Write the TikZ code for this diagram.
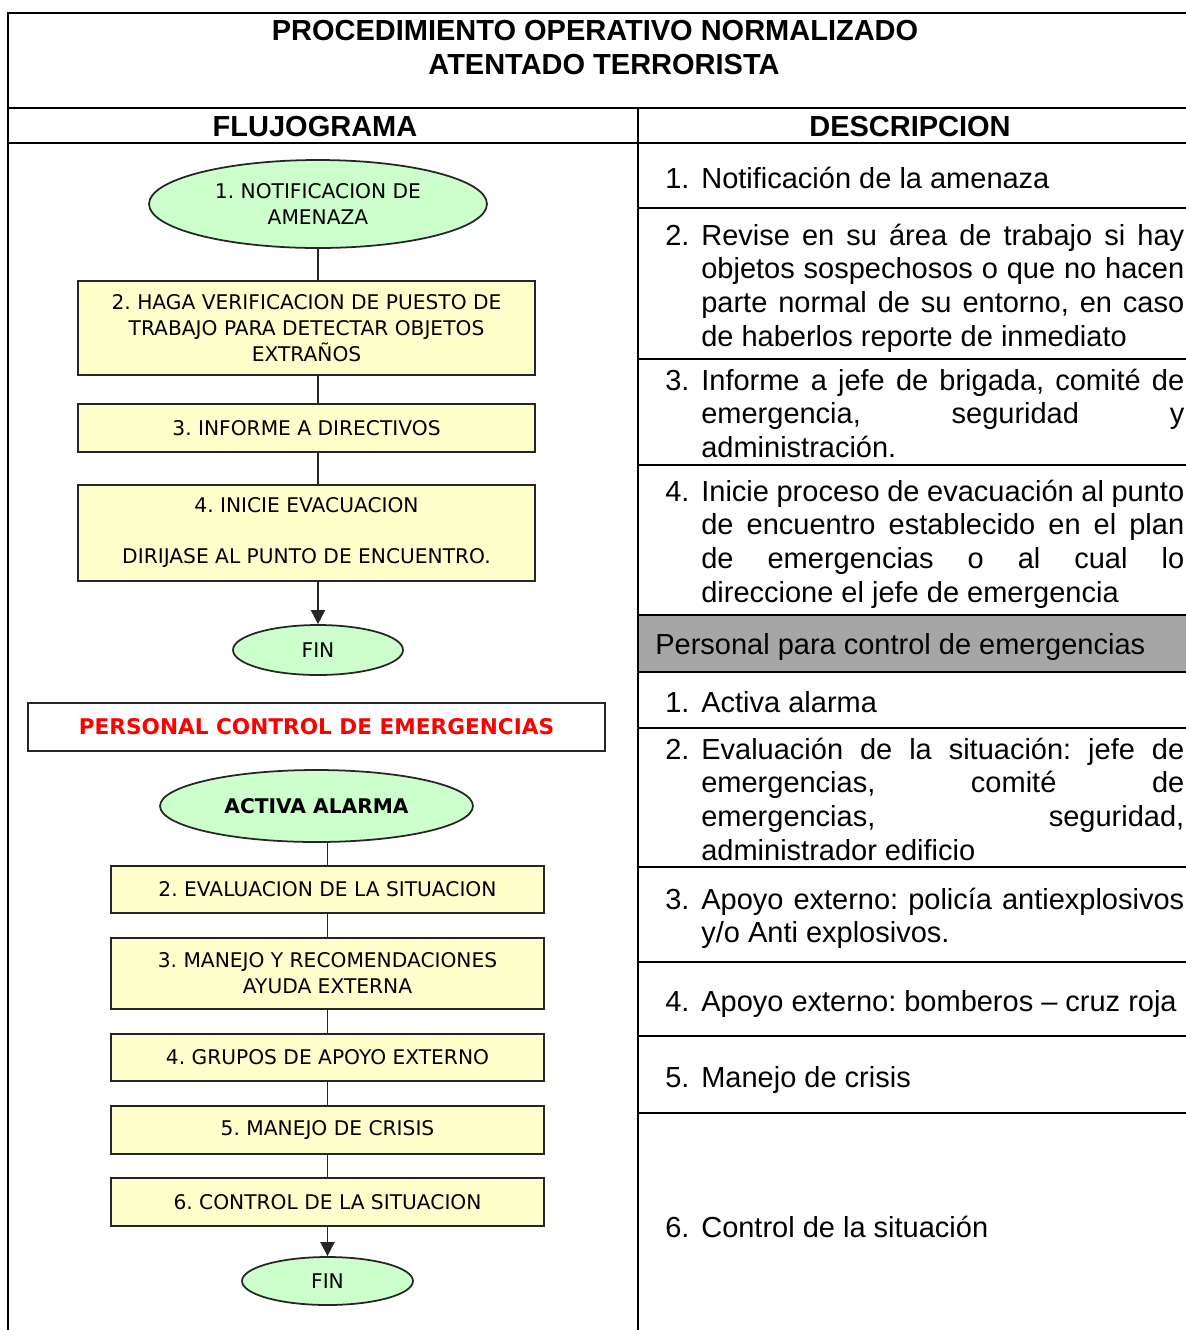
\documentclass[tikz,border=0pt]{standalone}
\usepackage{fontspec}
\setmainfont{Liberation Sans}
\newfontfamily\flujo{DejaVu Sans}
\usetikzlibrary{shapes.geometric,arrows.meta}
\definecolor{verdeclaro}{HTML}{CCFFCC}
\definecolor{amarilloclaro}{HTML}{FFFFCC}
\definecolor{grisfila}{HTML}{A6A6A6}
\hyphenpenalty=10000
\frenchspacing
\newcommand{\columna}[1]{\parbox[t]{10.38cm}{#1}}
\newcommand{\numero}[1]{\hangindent=0.72cm\hangafter=1\noindent\makebox[0.72cm][l]{#1}}

\begin{document}
\begin{tikzpicture}[x=0.02cm, y=-0.02cm,
  linea/.style={black, line width=1.1pt},
  titulo/.style={anchor=base, inner sep=0pt, font=\bfseries\fontsize{16.5}{19.3}\selectfont},
  texto/.style={anchor=base west, inner sep=0pt, font=\fontsize{16.5}{19.3}\selectfont},
  caja/.style={draw=black!85, line width=1pt, fill=amarilloclaro, minimum width=8.66cm, inner sep=0pt, align=center, font=\flujo\fontsize{11.5}{14.8}\selectfont},
  ovalo/.style={ellipse, draw=black!85, line width=1pt, fill=verdeclaro, inner sep=0pt, align=center, font=\flujo\fontsize{11.5}{14.8}\selectfont},
  conector/.style={black!85, line width=1.1pt},
  flecha/.style={conector, -{Triangle[length=8pt,width=8pt]}}]
  \useasboundingbox (0,0) rectangle (1186,1330);
  \fill [grisfila]    (638,615) rectangle (1186,672);
  \draw [linea]    (8,1330) -- (8,13) -- (1186,13);
  \draw [linea]    (8,108) -- (1186,108);
  \draw [linea]    (8,143) -- (1186,143);
  \draw [linea]    (638,108) -- (638,1330);
  \foreach \y in {208,359,465,615,672,728,867,962,1036,1113}
    \draw [linea]    (638,\y) -- (1186,\y);

  \node [titulo] (titulo1) at (595,40) {PROCEDIMIENTO OPERATIVO NORMALIZADO};
  \node [titulo] (titulo2) at (604,74) {ATENTADO TERRORISTA};
  \node [titulo] (flujograma) at (315,136) {FLUJOGRAMA};
  \node [titulo] (descripcion) at (910,136) {DESCRIPCION};

  \node [texto] (desc1) at (665,188) {\columna{\numero{1.}Notificación de la amenaza}};
  \node [texto] (desc2) at (665,245) {\columna{\numero{2.}Revise en su área de trabajo si hay\linebreak objetos sospechosos o que no hacen\linebreak parte normal de su entorno, en caso\linebreak de haberlos reporte de inmediato}};
  \node [texto] (desc3) at (665,390) {\columna{\numero{3.}Informe a jefe de brigada, comité de\linebreak emergencia, seguridad y\linebreak administración.}};
  \node [texto] (desc4) at (665,501) {\columna{\numero{4.}Inicie proceso de evacuación al punto\linebreak de encuentro establecido en el plan\linebreak de emergencias o al cual lo\linebreak direccione el jefe de emergencia}};
  \node [texto] (personaldesc) at (655,654) {Personal para control de emergencias};
  \node [texto] (alarma1) at (665,712) {\columna{\numero{1.}Activa alarma}};
  \node [texto] (alarma2) at (665,759) {\columna{\numero{2.}Evaluación de la situación: jefe de\linebreak emergencias, comité de\linebreak emergencias, seguridad,\linebreak administrador edificio}};
  \node [texto] (alarma3) at (665,909) {\columna{\numero{3.}Apoyo externo: policía antiexplosivos\linebreak y/o Anti explosivos.}};
  \node [texto] (alarma4) at (665,1011) {\columna{\numero{4.}Apoyo externo: bomberos – cruz roja}};
  \node [texto] (alarma5) at (665,1087) {\columna{\numero{5.}Manejo de crisis}};
  \node [texto] (alarma6) at (665,1237) {\columna{\numero{6.}Control de la situación}};

  \node [ovalo, minimum width=6.76cm, minimum height=1.76cm] (notificacion) at (318,204) {1. NOTIFICACION DE\\AMENAZA};
  \node [caja, minimum width=9.14cm, minimum height=1.88cm] (verificacion) at (306.5,328) {2. HAGA VERIFICACION DE PUESTO DE\\TRABAJO PARA DETECTAR OBJETOS\\EXTRAÑOS};
  \node [caja, minimum width=9.14cm, minimum height=0.96cm] (informe) at (306.5,428) {3. INFORME A DIRECTIVOS};
  \node [caja, minimum width=9.14cm, minimum height=1.92cm] (evacuacion) at (306.5,533) {4. INICIE EVACUACION\\[0.5cm]DIRIJASE AL PUNTO DE ENCUENTRO.};
  \node [ovalo, minimum width=3.4cm, minimum height=1cm] (fin1) at (318,650) {FIN};
  \node [draw=black!85, line width=1pt, minimum width=11.54cm, minimum height=0.96cm, text=red, font=\flujo\bfseries\fontsize{12.3}{15}\selectfont] (personal) at (316.5,727) {PERSONAL CONTROL DE EMERGENCIAS};
  \node [ovalo, minimum width=6.26cm, minimum height=1.44cm, font=\flujo\bfseries\fontsize{11.5}{14.8}\selectfont] (alarma) at (316.5,806) {ACTIVA ALARMA};
  \node [caja, minimum height=0.94cm] (evaluacion) at (327.5,889.5) {2. EVALUACION DE LA SITUACION};
  \node [caja, minimum height=1.42cm] (manejo) at (327.5,973.5) {3. MANEJO Y RECOMENDACIONES\\AYUDA EXTERNA};
  \node [caja, minimum height=0.94cm] (grupos) at (327.5,1057.5) {4. GRUPOS DE APOYO EXTERNO};
  \node [caja, minimum height=0.96cm] (crisis) at (327.5,1130) {5. MANEJO DE CRISIS};
  \node [caja, minimum height=0.96cm] (control) at (327.5,1202) {6. CONTROL DE LA SITUACION};
  \node [ovalo, minimum width=3.42cm, minimum height=0.96cm] (fin2) at (327.5,1281) {FIN};

  \draw [conector]    (notificacion.south) -- (notificacion.south |- verificacion.north);
  \draw [conector]    (notificacion.south |- verificacion.south) -- (notificacion.south |- informe.north);
  \draw [conector]    (notificacion.south |- informe.south) -- (notificacion.south |- evacuacion.north);
  \draw [flecha]    (notificacion.south |- evacuacion.south) -- (fin1.north);
  \draw [conector]    (evaluacion.north |- alarma.south) -- (evaluacion.north);
  \draw [conector]    (evaluacion.south) -- (manejo.north);
  \draw [conector]    (manejo.south) -- (grupos.north);
  \draw [conector]    (grupos.south) -- (crisis.north);
  \draw [conector]    (crisis.south) -- (control.north);
  \draw [flecha]    (control.south) -- (fin2.north);
\end{tikzpicture}
\end{document}
